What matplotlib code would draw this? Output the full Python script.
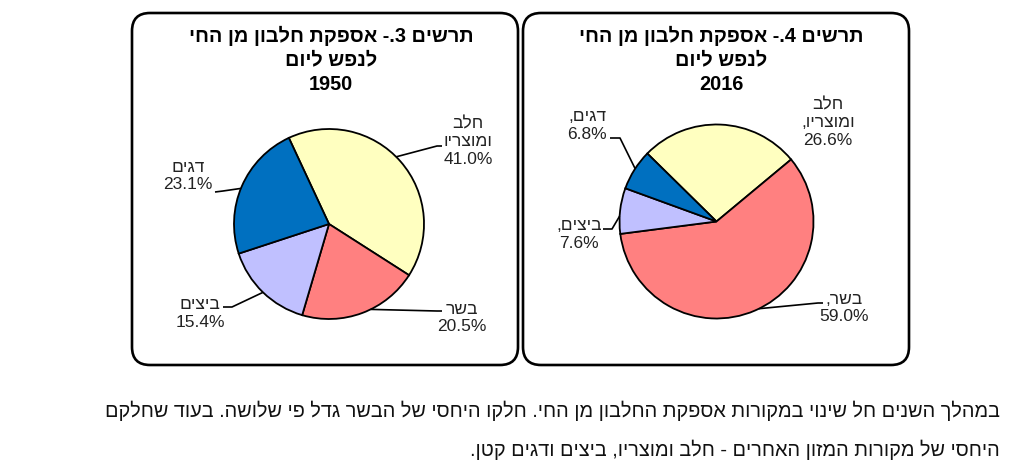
import re
import numpy as np
import matplotlib
matplotlib.use('Agg')
import matplotlib.pyplot as plt
from matplotlib.patches import FancyBboxPatch

plt.rcParams['font.family'] = ['Liberation Sans', 'DejaVu Sans']

# נתונים
categories = ['חלב ומוצריו', 'בשר', 'ביצים', 'דגים']
share_1950 = [41.0, 20.5, 15.4, 23.1]
share_2016 = [26.6, 59.0, 7.6, 6.8]
colors = ['#FFFFC0', '#FF8080', '#C0C0FF', '#0070C0']

title_1950 = ['תרשים 3.- אספקת חלבון מן החי', 'לנפש ליום', '1950']
title_2016 = ['תרשים 4.- אספקת חלבון מן החי', 'לנפש ליום', '2016']
caption = ['במהלך השנים חל שינוי במקורות אספקת החלבון מן החי. חלקו היחסי של הבשר גדל פי שלושה. בעוד שחלקם',
           'היחסי של מקורות המזון האחרים - חלב ומוצריו, ביצים ודגים קטן.']

W, H = 1024, 465


def rtl(s):
    # matplotlib has no bidi: reverse to visual order, numbers stay LTR
    parts = re.findall(r'\d+(?:[.,]\d+)*%?|.', s)
    return ''.join(reversed(parts))


def make_label(name, v, comma):
    words = name.split(' ')
    if comma:
        words[-1] = words[-1] + ','
    lines = [rtl(w) for w in words] + ['%.1f%%' % v]
    return '\n'.join(lines)


fig = plt.figure(figsize=(W / 100, H / 100), dpi=100)
ax = fig.add_axes([0, 0, 1, 1])

# rounded frames (pixel coords, y from top)
for x0, x1 in [(132, 518), (523, 909)]:
    box = FancyBboxPatch((x0, H - 365), x1 - x0, 352,
                         boxstyle='round,pad=0,rounding_size=18',
                         fc='white', ec='black', lw=1.9, zorder=0)
    ax.add_patch(box)

pies = [
    # values, center, radius, start, title, title x, comma, labels, leaders
    (share_1950, (329, 224), 95, 115, title_1950, 331, False,
     [(468, 142), (462, 318), (200, 313.5), (188, 176)],
     [((442, 146), (437, 146), 45), ((442, 311), (437, 311), 296),
      ((223, 307), (232, 307), 226), ((215, 192), (223, 191), 158)]),
    (share_2016, (716.5, 221.5), 97, 135.5, title_2016, 721, True,
     [(828, 122.5), (844, 308), (579, 234.5), (587, 125.5)],
     [None, ((823, 303), (818, 303), 296),
      ((603, 229), (612, 229), 176.8), ((610, 138), (620, 138), 147)]),
]

for vals, c, r, start, title, tx, comma, lab_pos, leaders in pies:
    ax.pie(vals, colors=colors, center=(c[0], H - c[1]), radius=r,
           startangle=start, counterclock=False,
           wedgeprops=dict(edgecolor='black', linewidth=1.3))
    for i, line in enumerate(title):
        ax.text(tx, H - (35.5 + 24.5 * i), rtl(line), ha='center', va='center',
                fontsize=14.3, fontweight='bold', color='black')
    for name, v, (lx, ly), ld in zip(categories, vals, lab_pos, leaders):
        ax.text(lx, H - ly, make_label(name, v, comma), ha='center', va='center',
                fontsize=12.5, color='#222222', linespacing=1.22)
        if ld is None:
            continue
        p0, p1, ang = ld
        ex = c[0] + r * np.cos(np.radians(ang))
        ey = H - c[1] + r * np.sin(np.radians(ang))
        ax.plot([p0[0], p1[0], ex], [H - p0[1], H - p1[1], ey],
                color='black', lw=1.2, solid_capstyle='butt')

for i, line in enumerate(caption):
    ax.text(1000, H - (411 + 38.5 * i), rtl(line), ha='right', va='center',
            fontsize=14.3, color='#111111')

ax.set_xlim(0, W)
ax.set_ylim(0, H)
ax.set_aspect('auto')
ax.axis('off')

fig.savefig('out.png', dpi=100, facecolor='white')
